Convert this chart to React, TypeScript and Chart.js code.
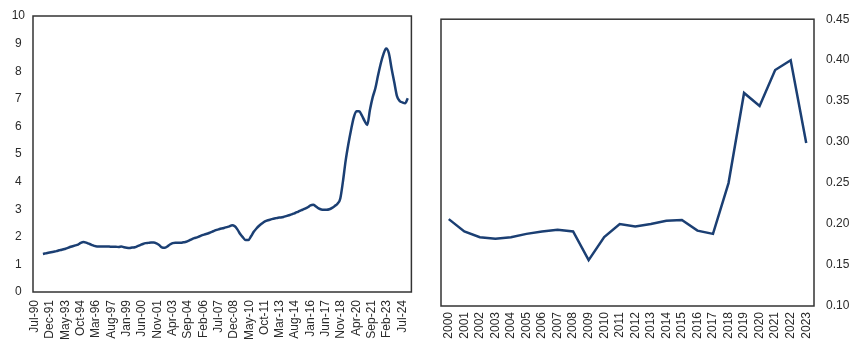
import React, { useEffect, useRef } from 'react';
import { Chart, registerables } from 'chart.js';
Chart.register(...registerables);

// Left chart: monthly axis starting Jul-90 (month index 0), labels every 17 months
const leftTickLabels = [
  'Jul-90', 'Dec-91', 'May-93', 'Oct-94', 'Mar-96', 'Aug-97', 'Jan-99', 'Jun-00',
  'Nov-01', 'Apr-03', 'Sep-04', 'Feb-06', 'Jul-07', 'Dec-08', 'May-10', 'Oct-11',
  'Mar-13', 'Aug-14', 'Jan-16', 'Jun-17', 'Nov-18', 'Apr-20', 'Sep-21', 'Feb-23', 'Jul-24',
];
const leftTickEveryMonths = 17;
const leftStartMonth = 9; // Apr-91, months after Jul-90
const leftStepMonths = 3; // quarterly readings
const leftValues = [
  1.38, 1.40, 1.42, 1.44, 1.46, 1.48, 1.51, 1.53, 1.56, 1.59,
  1.63, 1.66, 1.69, 1.72, 1.78, 1.81, 1.79, 1.75, 1.71, 1.67,
  1.65, 1.65, 1.65, 1.65, 1.65, 1.64, 1.64, 1.64, 1.63, 1.65,
  1.62, 1.60, 1.59, 1.61, 1.62, 1.66, 1.70, 1.74, 1.77, 1.78,
  1.79, 1.79, 1.76, 1.70, 1.62, 1.60, 1.65, 1.72, 1.77, 1.78,
  1.78, 1.78, 1.80, 1.82, 1.86, 1.91, 1.95, 1.98, 2.02, 2.06,
  2.09, 2.12, 2.16, 2.20, 2.24, 2.27, 2.30, 2.32, 2.35, 2.38,
  2.42, 2.38, 2.26, 2.10, 1.98, 1.88, 1.88, 2.02, 2.18, 2.30,
  2.40, 2.48, 2.55, 2.59, 2.62, 2.65, 2.67, 2.69, 2.70, 2.72,
  2.75, 2.78, 2.81, 2.85, 2.89, 2.94, 2.98, 3.02, 3.07, 3.14,
  3.16, 3.10, 3.03, 2.99, 2.98, 2.98, 3.00, 3.05, 3.12, 3.20,
  3.38, 4.00, 4.75, 5.35, 5.87, 6.32, 6.55, 6.55, 6.40, 6.20,
  6.05, 6.60, 7.05, 7.38, 7.85, 8.28, 8.62, 8.82, 8.65, 8.10,
  7.60, 7.10, 6.92, 6.87, 6.84, 7.02,
];

// Right chart: annual
const rightYears = [
  '2000', '2001', '2002', '2003', '2004', '2005', '2006', '2007', '2008', '2009', '2010', '2011',
  '2012', '2013', '2014', '2015', '2016', '2017', '2018', '2019', '2020', '2021', '2022', '2023',
];
const rightValues = [
  0.206, 0.191, 0.184, 0.182, 0.184, 0.188, 0.191, 0.193, 0.191, 0.156, 0.184, 0.200,
  0.197, 0.200, 0.204, 0.205, 0.192, 0.188, 0.250, 0.360, 0.344, 0.388, 0.400, 0.299,
];

const LINE = '#1b3f73';
const TEXT = '#2a2a2a';
const FONT = { family: '"Liberation Sans", Arial, sans-serif', size: 12 };

const boxPlugin = {
  id: 'box',
  afterDraw(chart: any) {
    const { ctx, chartArea: a } = chart;
    ctx.save();
    ctx.strokeStyle = '#333';
    ctx.lineWidth = 1.5;
    ctx.strokeRect(a.left, a.top, a.right - a.left, a.bottom - a.top);
    ctx.restore();
  },
};

function LeftChart() {
  const ref = useRef<HTMLCanvasElement>(null);
  useEffect(() => {
    const chart = new Chart(ref.current!, {
      type: 'line',
      data: {
        datasets: [{
          data: leftValues.map((v, i) => ({ x: leftStartMonth + i * leftStepMonths, y: v })),
          borderColor: LINE,
          borderWidth: 2.5,
          pointRadius: 0,
          cubicInterpolationMode: 'monotone',
          fill: false,
        }],
      },
      options: {
        animation: false,
        responsive: false,
        layout: { padding: { top: 16, right: 9, left: 0, bottom: 0 } },
        plugins: { legend: { display: false }, tooltip: { enabled: false } },
        scales: {
          x: {
            type: 'linear',
            min: -2,
            max: 418,
            afterBuildTicks: (s: any) => {
              s.ticks = leftTickLabels.map((_, i) => ({ value: i * leftTickEveryMonths }));
            },
            afterFit: (s: any) => { s.height = 64; },
            grid: { display: false, drawTicks: false },
            border: { display: false },
            ticks: {
              autoSkip: false,
              maxRotation: 90,
              minRotation: 90,
              padding: 8,
              color: TEXT,
              font: FONT,
              callback: (v: any) => leftTickLabels[Math.round(Number(v) / leftTickEveryMonths)] ?? '',
            },
          },
          y: {
            min: 0,
            max: 10,
            afterFit: (s: any) => { s.width = 33; },
            grid: { display: false, drawTicks: false },
            border: { display: false },
            ticks: { stepSize: 1, crossAlign: 'center', padding: 8, color: TEXT, font: FONT },
          },
        },
      },
      plugins: [boxPlugin],
    } as any);
    return () => chart.destroy();
  }, []);
  return <canvas ref={ref} width={425} height={356} style={{ display: 'block' }} />;
}

function RightChart() {
  const ref = useRef<HTMLCanvasElement>(null);
  useEffect(() => {
    const chart = new Chart(ref.current!, {
      type: 'line',
      data: {
        labels: rightYears,
        datasets: [{
          data: rightValues,
          borderColor: LINE,
          borderWidth: 2.5,
          pointRadius: 0,
          tension: 0,
          fill: false,
        }],
      },
      options: {
        animation: false,
        responsive: false,
        layout: { padding: { top: 16, right: 0, left: 16, bottom: 0 } },
        plugins: { legend: { display: false }, tooltip: { enabled: false } },
        scales: {
          x: {
            type: 'category',
            offset: true,
            afterFit: (s: any) => { s.height = 50; },
            grid: { display: false, drawTicks: false },
            border: { display: false },
            ticks: { autoSkip: false, maxRotation: 90, minRotation: 90, padding: 6, color: TEXT, font: FONT },
          },
          y: {
            position: 'right',
            min: 0.1,
            max: 0.45,
            afterFit: (s: any) => { s.width = 51; },
            grid: { display: false, drawTicks: false },
            border: { display: false },
            ticks: {
              stepSize: 0.05,
              padding: 12,
              color: TEXT,
              font: FONT,
              callback: (v: any) => Number(v).toFixed(2),
            },
          },
        },
      },
      plugins: [boxPlugin],
    } as any);
    return () => chart.destroy();
  }, []);
  return <canvas ref={ref} width={440} height={356} style={{ display: 'block' }} />;
}

export default function App() {
  return (
    <div style={{ position: 'fixed', left: 0, top: 0, width: 865, height: 356, background: '#fff' }}>
      <div style={{ position: 'absolute', left: 0, top: 0 }}><LeftChart /></div>
      <div style={{ position: 'absolute', left: 425, top: 0 }}><RightChart /></div>
    </div>
  );
}
